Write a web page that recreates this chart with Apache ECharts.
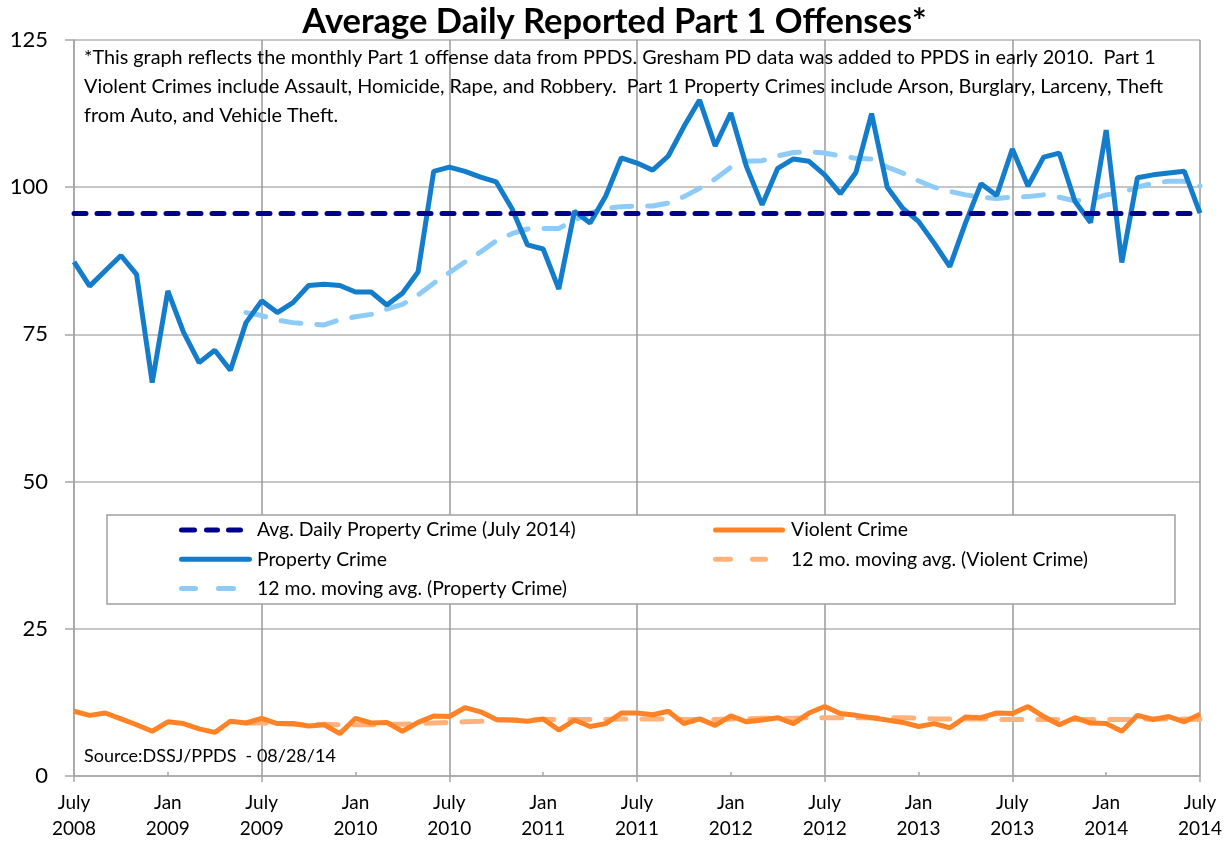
<!DOCTYPE html>
<html>
<head>
<meta charset="utf-8">
<title>Average Daily Reported Part 1 Offenses</title>
<script src="https://cdn.jsdelivr.net/npm/echarts@6/dist/echarts.min.js"></script>
<style>
  html, body { margin: 0; padding: 0; background: #fff; }
  #chart { width: 1229px; height: 842px; }
</style>
</head>
<body>
<div id="chart"></div>
<script>
// months, July 2008 .. July 2014
const months = [
  'Jul 2008', 'Aug 2008', 'Sep 2008', 'Oct 2008', 'Nov 2008', 'Dec 2008',
  'Jan 2009', 'Feb 2009', 'Mar 2009', 'Apr 2009', 'May 2009', 'Jun 2009',
  'Jul 2009', 'Aug 2009', 'Sep 2009', 'Oct 2009', 'Nov 2009', 'Dec 2009',
  'Jan 2010', 'Feb 2010', 'Mar 2010', 'Apr 2010', 'May 2010', 'Jun 2010',
  'Jul 2010', 'Aug 2010', 'Sep 2010', 'Oct 2010', 'Nov 2010', 'Dec 2010',
  'Jan 2011', 'Feb 2011', 'Mar 2011', 'Apr 2011', 'May 2011', 'Jun 2011',
  'Jul 2011', 'Aug 2011', 'Sep 2011', 'Oct 2011', 'Nov 2011', 'Dec 2011',
  'Jan 2012', 'Feb 2012', 'Mar 2012', 'Apr 2012', 'May 2012', 'Jun 2012',
  'Jul 2012', 'Aug 2012', 'Sep 2012', 'Oct 2012', 'Nov 2012', 'Dec 2012',
  'Jan 2013', 'Feb 2013', 'Mar 2013', 'Apr 2013', 'May 2013', 'Jun 2013',
  'Jul 2013', 'Aug 2013', 'Sep 2013', 'Oct 2013', 'Nov 2013', 'Dec 2013',
  'Jan 2014', 'Feb 2014', 'Mar 2014', 'Apr 2014', 'May 2014', 'Jun 2014',
  'Jul 2014'
];

const propertyCrime = [
  87.3, 83.2, 85.8, 88.4, 85.2, 66.8, 82.4, 75.4, 70.2, 72.3, 68.9, 77.0,
  80.7, 78.7, 80.4, 83.3, 83.5, 83.3, 82.2, 82.2, 80.0, 82.0, 85.6, 102.7,
  103.4, 102.7, 101.7, 100.9, 96.4, 90.2, 89.5, 82.7, 95.9, 93.9, 98.5, 105.0,
  104.1, 102.9, 105.3, 110.3, 114.8, 107.0, 112.6, 103.5, 97.0, 103.2, 104.8, 104.4,
  102.1, 98.9, 102.5, 112.5, 100.0, 96.4, 94.2, 90.5, 86.5, 93.9, 100.6, 98.6,
  106.5, 100.2, 105.1, 105.8, 97.6, 94.0, 109.7, 87.2, 101.6, 102.1, 102.4, 102.7,
  95.6
];

const propertyAvg12 = [
  null, null, null, null, null, null, null, null, null, null, null, 78.7,
  78.2, 77.4, 77.0, 76.8, 76.6, 77.5, 78.0, 78.4, 79.3, 80.1, 81.7, 83.7,
  85.5, 87.3, 89.0, 90.9, 92.1, 92.9, 93.0, 93.0, 94.4, 95.6, 96.4, 96.7,
  96.8, 96.8, 97.3, 98.4, 99.8, 101.4, 103.4, 104.4, 104.5, 105.3, 105.9, 106.0,
  105.8, 105.3, 104.9, 104.8, 103.4, 102.4, 101.1, 100.0, 99.3, 98.7, 98.3, 98.1,
  98.3, 98.4, 98.7, 98.3, 97.7, 97.9, 98.7, 99.1, 100.0, 100.7, 101.0, 101.0,
  100.2
];

const violentCrime = [
  11.0, 10.3, 10.7, 9.7, 8.7, 7.6, 9.2, 8.9, 8.0, 7.4, 9.3, 9.0,
  9.8, 8.9, 8.9, 8.5, 8.7, 7.2, 9.8, 9.0, 9.1, 7.6, 9.1, 10.2,
  10.1, 11.6, 10.9, 9.6, 9.5, 9.3, 9.7, 7.8, 9.5, 8.4, 8.9, 10.7,
  10.7, 10.4, 11.0, 8.9, 9.7, 8.6, 10.2, 9.2, 9.5, 9.9, 8.9, 10.7,
  11.8, 10.6, 10.3, 9.9, 9.5, 9.1, 8.4, 8.9, 8.2, 10.0, 9.9, 10.7,
  10.6, 11.8, 10.1, 8.7, 9.9, 9.0, 8.9, 7.6, 10.3, 9.6, 10.1, 9.2,
  10.5
];

const violentAvg12 = [
  null, null, null, null, null, null, null, null, null, null, null, 9.0,
  9.0, 8.9, 8.8, 8.7, 8.8, 8.7, 8.7, 8.7, 8.8, 8.8, 8.9, 9.0,
  9.1, 9.2, 9.3, 9.5, 9.5, 9.5, 9.6, 9.6, 9.6, 9.6, 9.6, 9.7,
  9.7, 9.7, 9.7, 9.6, 9.6, 9.6, 9.7, 9.7, 9.8, 9.8, 9.8, 9.9,
  9.9, 9.9, 9.9, 9.9, 9.9, 9.9, 9.8, 9.7, 9.7, 9.7, 9.7, 9.6,
  9.6, 9.6, 9.6, 9.6, 9.6, 9.6, 9.6, 9.6, 9.6, 9.7, 9.7, 9.7,
  9.6
];

// avg. daily property crime, July 2014
const avgDailyProperty = 95.6;

const yTicks = [0, 25, 50, 75, 100, 125];

const noteLines = [
  '*This graph reflects the monthly Part 1 offense data from PPDS. Gresham PD data was added to PPDS in early 2010.  Part 1',
  'Violent Crimes include Assault, Homicide, Rape, and Robbery.  Part 1 Property Crimes include Arson, Burglary, Larceny, Theft',
  'from Auto, and Vehicle Theft.'
];
const sourceNote = 'Source:DSSJ/PPDS  - 08/28/14';

const FONT = 'Lato, "Open Sans", sans-serif';

const chart = echarts.init(document.getElementById('chart'));

const monthLabel = function (value) {
  const parts = value.split(' ');
  return (parts[0] === 'Jul' ? 'July' : parts[0]) + '\n' + parts[1];
};

// legend icon: rounded dashes inside a 73 x 5 box
const ICON_W = 73, ICON_H = 5;
function dashIcon(segs) {
  const r = ICON_H / 2;
  let p = '';
  segs.forEach(function (s) {
    p += 'M' + (s[0] + r) + ',0H' + (s[1] - r) +
      'A' + r + ',' + r + ' 0 0 1 ' + (s[1] - r) + ',' + ICON_H +
      'H' + (s[0] + r) + 'A' + r + ',' + r + ' 0 0 1 ' + (s[0] + r) + ',0Z';
  });
  // tiny mark so every icon spans the full box
  p += 'M' + (ICON_W - 0.05) + ',2.45H' + ICON_W + 'V2.5H' + (ICON_W - 0.05) + 'Z';
  return 'path://' + p;
}

const legendBase = {
  orient: 'vertical',
  top: 519,
  padding: 0,
  itemWidth: ICON_W,
  itemHeight: ICON_H,
  itemGap: 7.3,
  symbolKeepAspect: false,
  textStyle: { fontFamily: FONT, fontSize: 19.4, color: '#000', lineHeight: 22, padding: [0, 0, 0, 0] },
  z: 6
};

const option = {
  animation: false,
  backgroundColor: '#fff',
  title: {
    text: 'Average Daily Reported Part 1 Offenses*',
    left: 'center',
    top: -1,
    textStyle: { fontFamily: FONT, fontSize: 34.5, fontWeight: 'bold', color: '#000' }
  },
  grid: { left: 74, right: 29, top: 40, bottom: 66 },
  legend: [
    Object.assign({}, legendBase, {
      left: 179,
      data: [
        { name: 'Avg. Daily Property Crime (July 2014)', icon: dashIcon([[0, 18], [25, 41], [47, 64]]) },
        { name: 'Property Crime', icon: dashIcon([[0, 73]]) },
        { name: '12 mo. moving avg. (Property Crime)', icon: dashIcon([[0, 19], [37, 57]]) }
      ]
    }),
    Object.assign({}, legendBase, {
      left: 713,
      data: [
        { name: 'Violent Crime', icon: dashIcon([[0, 72]]) },
        { name: '12 mo. moving avg. (Violent Crime)', icon: dashIcon([[0, 20], [37, 55]]) }
      ]
    })
  ],
  xAxis: [
    {
      type: 'category',
      data: months,
      boundaryGap: false,
      axisLine: { lineStyle: { color: '#a6a6a6', width: 1.5 } },
      axisTick: {
        interval: function (i) { return i % 12 === 0; },
        length: 6,
        lineStyle: { color: '#a6a6a6', width: 1.5 }
      },
      axisLabel: {
        interval: function (i) { return i % 6 === 0; },
        formatter: monthLabel,
        fontFamily: FONT,
        fontSize: 19,
        lineHeight: 26,
        color: '#000',
        margin: 14
      },
      splitLine: {
        show: true,
        interval: function (i) { return i % 12 === 0; },
        lineStyle: { color: '#9a9a9a', width: 1.5 }
      }
    },
    {
      // short inside ticks for the January positions
      type: 'category',
      data: months,
      boundaryGap: false,
      position: 'bottom',
      axisLine: { show: false },
      axisLabel: { show: false },
      axisTick: {
        interval: function (i) { return i % 12 === 6; },
        inside: true,
        length: 4,
        lineStyle: { color: '#a6a6a6', width: 1.5 }
      },
      splitLine: { show: false }
    }
  ],
  yAxis: {
    type: 'value',
    min: yTicks[0],
    max: yTicks[yTicks.length - 1],
    interval: 25,
    axisLine: { show: true, lineStyle: { color: '#a6a6a6', width: 1.5 } },
    axisTick: { show: true, length: 9, lineStyle: { color: '#a6a6a6', width: 1.5 } },
    axisLabel: { fontFamily: FONT, fontSize: 22, color: '#000', margin: 26 },
    splitLine: { lineStyle: { color: '#b3b3b3', width: 1.5 } }
  },
  graphic: [
    {
      // legend frame, white so the grid lines stop at it
      type: 'rect',
      shape: { x: 107, y: 515, width: 1068, height: 89 },
      style: { fill: '#fff', stroke: '#a0a0a0', lineWidth: 1.5 },
      z: 5
    },
    {
      type: 'text',
      left: 84,
      top: 43,
      style: {
        text: noteLines.join('\n'),
        fontFamily: FONT,
        fontSize: 19.8,
        lineHeight: 29,
        fill: '#000'
      },
      z: 5
    },
    {
      type: 'text',
      left: 84,
      top: 747,
      style: { text: sourceNote, fontFamily: FONT, fontSize: 18, fill: '#000' },
      z: 5
    }
  ],
  series: [
    {
      name: 'Avg. Daily Property Crime (July 2014)',
      type: 'line',
      data: [],
      symbol: 'none',
      lineStyle: { color: '#00008f', width: 5, type: [12, 11], cap: 'round' },
      itemStyle: { color: '#00008f' },
      markLine: {
        silent: true,
        symbol: 'none',
        label: { show: false },
        lineStyle: { color: '#00008f', width: 5, type: [12, 11], cap: 'round' },
        data: [{ yAxis: avgDailyProperty }]
      },
      z: 3
    },
    {
      name: 'Violent Crime',
      type: 'line',
      data: violentCrime,
      symbol: 'none',
      lineStyle: { color: '#ff8226', width: 5 },
      itemStyle: { color: '#ff8226' },
      z: 2
    },
    {
      name: 'Property Crime',
      type: 'line',
      data: propertyCrime,
      symbol: 'none',
      lineStyle: { color: '#137dcc', width: 5 },
      itemStyle: { color: '#137dcc' },
      z: 2
    },
    {
      name: '12 mo. moving avg. (Violent Crime)',
      type: 'line',
      data: violentAvg12,
      symbol: 'none',
      lineStyle: { color: '#ffb27c', width: 5, type: [20, 16], cap: 'round' },
      itemStyle: { color: '#ffb27c' },
      z: 1
    },
    {
      name: '12 mo. moving avg. (Property Crime)',
      type: 'line',
      data: propertyAvg12,
      symbol: 'none',
      lineStyle: { color: '#8ecbf7', width: 5, type: [20, 16], cap: 'round' },
      itemStyle: { color: '#8ecbf7' },
      z: 1
    }
  ]
};

chart.setOption(option);
</script>
</body>
</html>
